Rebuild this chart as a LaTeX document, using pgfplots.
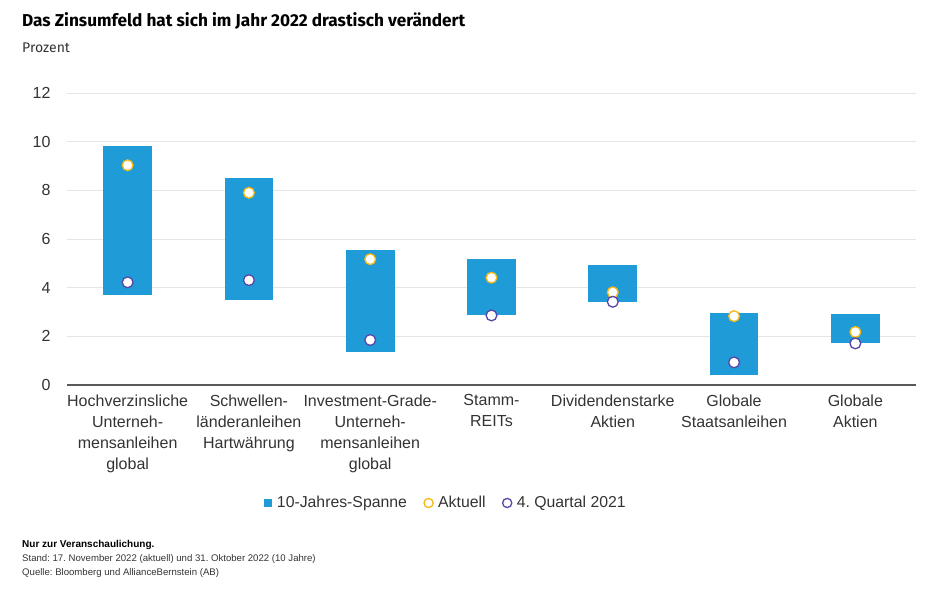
\documentclass[border=0pt]{standalone}
\usepackage{pgfplots}
\usepackage{pgfplotstable}
\pgfplotsset{compat=1.18}
\usepackage{fontspec}
\setmainfont{Liberation Sans}
\newfontfamily\titlefont{Fira Sans}
\frenchspacing

\definecolor{spanblue}{HTML}{1F9BD7}
\definecolor{aktgold}{HTML}{F5B814}
\definecolor{qpurple}{HTML}{5A45A8}
\definecolor{labelgray}{HTML}{333333}

% x: Kategorie, lo/hi: 10-Jahres-Spanne, span = hi - lo
\pgfplotstableread{
x lo   hi   span akt  q4
0 3.71 9.81 6.10 9.03 4.22
1 3.49 8.49 5.00 7.90 4.31
2 1.36 5.54 4.18 5.17 1.85
3 2.87 5.16 2.29 4.41 2.86
4 3.42 4.92 1.50 3.81 3.42
5 0.40 2.97 2.57 2.83 0.93
6 1.72 2.90 1.18 2.18 1.71
}\zinsdata

\begin{document}
\begin{tikzpicture}
\useasboundingbox (0pt,0pt) rectangle (940pt,-610pt);

\node[anchor=base west, inner sep=0pt, font=\titlefont\bfseries\fontsize{17.2}{20}\selectfont] at (22pt,-26.5pt)
  {Das Zinsumfeld hat sich im Jahr 2022 drastisch verändert};
\node[anchor=base west, inner sep=0pt, font=\titlefont\fontsize{14}{16}\selectfont, text=labelgray] at (22pt,-52.5pt) {Prozent};

\begin{axis}[
  at={(67pt,-385pt)}, anchor=south west,
  scale only axis,
  width=849pt, height=292pt,
  xmin=-0.5, xmax=6.5,
  ymin=0, ymax=12,
  ytick={0,2,...,12},
  xtick={0,...,6},
  xticklabels={
    {Hochverzinsliche\\Unterneh-\\mensanleihen\\global},
    {Schwellen-\\länderanleihen\\Hartwährung},
    {Investment-Grade-\\Unterneh-\\mensanleihen\\global},
    {Stamm-\\REITs},
    {Dividendenstarke\\Aktien},
    {Globale\\Staatsanleihen},
    {Globale\\Aktien}},
  xticklabel style={align=center, font=\fontsize{16}{21}\selectfont, text=labelgray, yshift=-6pt},
  yticklabel style={font=\fontsize{16}{18}\selectfont, text=labelgray, xshift=-13pt},
  /pgf/number format/assume math mode=true,
  major tick length=0pt,
  axis x line*=bottom,
  axis y line*=left,
  y axis line style={draw=none},
  x axis line style={draw=black!65, line width=1.3pt},
  ymajorgrids,
  grid style={draw=black!10, line width=0.8pt},
  legend columns=3,
  legend style={draw=none, fill=none, at={(0.446,-0.404)}, anchor=center,
    font=\fontsize{15.8}{18}\selectfont, text=labelgray,
    /tikz/every odd column/.append style={column sep=3pt},
    /tikz/every even column/.append style={column sep=15pt}},
]

\addplot[draw=none, mark=none,
  legend image code/.code={\fill[spanblue] (0pt,-4.2pt) rectangle (8.4pt,4.2pt);},
  error bars/.cd, y dir=plus, y explicit, error mark=none,
  error bar style={draw=spanblue, line width=48.7pt},
  ] table[x=x, y=lo, y error plus=span] {\zinsdata};
\addlegendentry{10-Jahres-Spanne}

\addplot[only marks, mark=*, mark size=5.4pt,
  mark options={fill=white, draw=aktgold, line width=1.3pt},
  legend image post style={mark size=4.6pt}]
  table[x=x, y=akt] {\zinsdata};
\addlegendentry{Aktuell}

\addplot[only marks, mark=*, mark size=5.4pt,
  mark options={fill=white, draw=qpurple, line width=1.3pt},
  legend image post style={mark size=4.6pt}]
  table[x=x, y=q4] {\zinsdata};
\addlegendentry{4. Quartal 2021}

\end{axis}

\node[anchor=base west, inner sep=0pt, font=\bfseries\fontsize{10}{12}\selectfont] at (22pt,-547pt) {Nur zur Veranschaulichung.};
\node[anchor=base west, inner sep=0pt, font=\fontsize{9.6}{11}\selectfont, text=labelgray] at (22pt,-561pt)
  {Stand: 17. November 2022 (aktuell) und 31. Oktober 2022 (10 Jahre)};
\node[anchor=base west, inner sep=0pt, font=\fontsize{9.6}{11}\selectfont, text=labelgray] at (22pt,-575pt)
  {Quelle: Bloomberg und AllianceBernstein (AB)};
\end{tikzpicture}
\end{document}
